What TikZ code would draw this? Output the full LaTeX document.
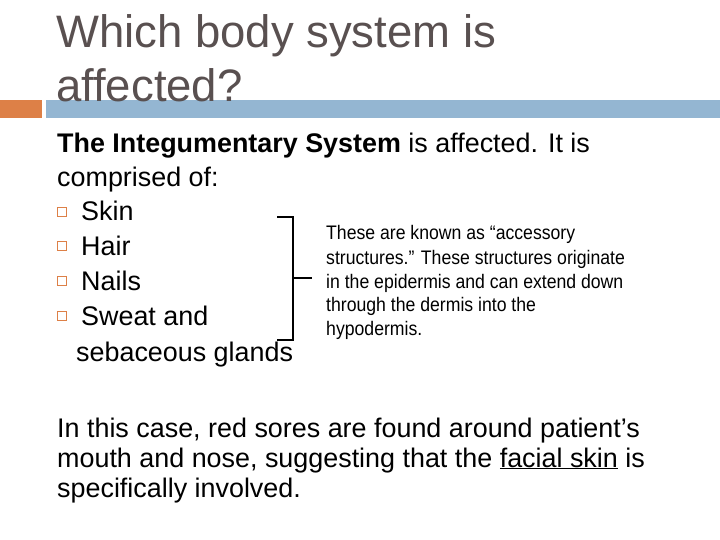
\documentclass[tikz,border=0pt]{standalone}
\usepackage{fontspec}
\setmainfont{Liberation Sans}
\definecolor{ttl}{RGB}{89,80,80}
\definecolor{org}{RGB}{221,128,71}
\definecolor{blu}{RGB}{148,182,210}
\begin{document}
\begin{tikzpicture}[x=1pt,y=-1pt,
 t/.style={anchor=base west,inner sep=0pt,font=\fontsize{26.9}{30}\selectfont},
 s/.style={anchor=base west,inner sep=0pt,font=\fontsize{19.6}{22}\selectfont},
 bul/.style={draw=org,line width=1.3pt,minimum size=9pt,inner sep=0pt}]
\useasboundingbox (0,0) rectangle (720,540);
\fill[org] (0,100) rectangle (42,118);
\fill[blu] (46,100) rectangle (720,118);
\node[anchor=base west,inner sep=0pt,text=ttl,font=\fontsize{45.5}{50}\selectfont] (t1) at (56,48) {Which body system is};
\node[anchor=base west,inner sep=0pt,text=ttl,font=\fontsize{45.5}{50}\selectfont] (t2) at (56,102) {affected?};
\node[t] (l1) at (57,153) {\textbf{The Integumentary System} is affected. It is};
\node[t] (l2) at (57,187) {comprised of:};
\foreach \y/\w [count=\i] in {221/Skin,255/Hair,290/Nails,325/Sweat and}{
  \node[bul] (b\i) at (62,\y-9) {};
  \node[t] (w\i) at (81,\y) {\w};}
\node[t] (w5) at (76,361) {sebaceous glands};
\draw[line width=1.4pt] (277,217) -- (293,217) -- (293,340) -- (277,340);
\draw[line width=1.4pt] (293,278) -- (312,278);
\node[s,xscale=0.9,anchor=base west] (s1) at (326,240) {These are known as “accessory};
\node[s] (s2) at (326,264) {\scalebox{0.9}[1]{structures.” These structures originate}};
\node[s] (s3) at (326,288) {\scalebox{0.9}[1]{in the epidermis and can extend down}};
\node[s] (s4) at (326,311) {\scalebox{0.9}[1]{through the dermis into the}};
\node[s] (s5) at (326,335) {\scalebox{0.9}[1]{hypodermis.}};
\node[t] (p1) at (57,437) {In this case, red sores are found around patient’s};
\node[t] (p2) at (57,467) {mouth and nose, suggesting that the \underline{facial skin} is};
\node[t] (p3) at (57,497) {specifically involved.};
\end{tikzpicture}
\end{document}
